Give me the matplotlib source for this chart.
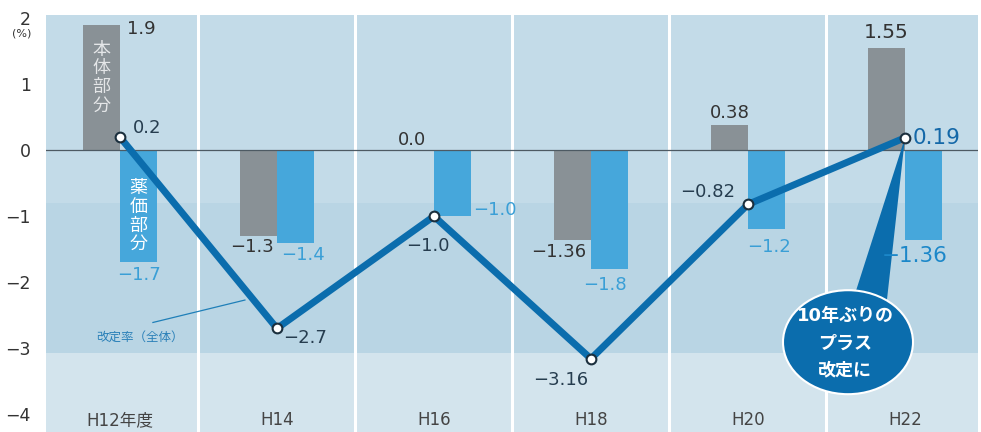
import numpy as np
import matplotlib
matplotlib.use('Agg')
import matplotlib.pyplot as plt
from matplotlib.patches import Ellipse, Polygon

plt.rcParams['font.family'] = ['DejaVu Sans', 'Noto Sans CJK JP']

# 診療報酬改定率の推移 (%)
years = ['H12年度', 'H14', 'H16', 'H18', 'H20', 'H22']
honntai = [1.9, -1.3, 0.0, -1.36, 0.38, 1.55]     # 本体部分
yakka = [-1.7, -1.4, -1.0, -1.8, -1.2, -1.36]     # 薬価部分
zentai = [0.2, -2.7, -1.0, -3.16, -0.82, 0.19]    # 改定率(全体)
honntai_txt = ['1.9', '−1.3', '0.0', '−1.36', '0.38', '1.55']
yakka_txt = ['−1.7', '−1.4', '−1.0', '−1.8', '−1.2', '−1.36']
zentai_txt = ['0.2', '−2.7', '−1.0', '−3.16', '−0.82', '0.19']
yticks = [-4, -3, -2, -1, 0, 1, 2]

# ラベル位置 (pixel offset, ha)
off_h = [(25, -4, 'left'), (-7, -11, 'center'), (-4, 10, 'center'),
         (-14, -12, 'center'), (0, 12, 'center'), (0, 15, 'center')]
off_y = [(1, -13, 'center'), (8, -12, 'center'), (21, 6, 'left'),
         (-4, -16, 'center'), (3, -18, 'center'), (-9, -16, 'center')]
off_z = [(13, 9, 'left'), (6, -10, 'left'), (-6, -30, 'center'),
         (-30, -21, 'center'), (-13, 12, 'right'), (8, 0, 'left')]

GRAY = '#899196'
LBLUE = '#46a7db'
LINE = '#0b6dad'
DARK = '#333333'

fig = plt.figure(figsize=(9.81, 4.32), dpi=100)
ax = fig.add_axes([46 / 981, 0, 932 / 981, 417 / 432])
x = np.arange(len(years))
w = 0.235
ax.set_xlim(-0.471, 5.465)
ax.set_ylim(-4.27, 2.05)

# 背景
ax.axhspan(-0.8, 2.05, color='#c3dbe8', lw=0, zorder=0)
ax.axhspan(-3.08, -0.8, color='#b9d5e4', lw=0, zorder=0)
ax.axhspan(-4.27, -3.08, color='#d3e4ed', lw=0, zorder=0)
for s in x[:-1] + 0.5:
    ax.axvline(s, color='white', lw=2.2, zorder=1)

ax.bar(x - w / 2, honntai, w, color=GRAY, zorder=2)
ax.bar(x + w / 2, yakka, w, color=LBLUE, zorder=2)
ax.axhline(0, color='#4d5a63', lw=0.9, zorder=2.5)

ax.text(x[0] - w / 2, 1.1, '本\n体\n部\n分', ha='center', va='center',
        color='#e4e6e8', fontsize=13, linespacing=1.05, zorder=6)
ax.text(x[0] + w / 2, -1.0, '薬\n価\n部\n分', ha='center', va='center',
        color='white', fontsize=13, linespacing=1.05, zorder=6)

# 吹き出し
ax.add_patch(Polygon([(x[5], zentai[5]), (4.669, -2.27), (4.885, -2.27)],
                     closed=True, color=LINE, lw=0, zorder=3))
ax.add_patch(Ellipse((4.637, -2.909), 0.828, 1.576, facecolor=LINE,
                     edgecolor='white', lw=1.5, zorder=3))
ax.text(4.618, -2.924, '10年ぶりの\nプラス\n改定に', ha='center', va='center',
        color='white', fontsize=13, fontweight='bold', linespacing=1.65,
        zorder=6)

ax.plot(x, zentai, color=LINE, lw=5, zorder=4, solid_joinstyle='miter')
ax.plot(x, zentai, 'o', ms=7, mfc='white', mec='#1b2f3d', mew=1.5, zorder=5)

for i in range(len(years)):
    big = i == 5
    dx, dy, ha = off_h[i]
    ax.annotate(honntai_txt[i], (x[i] - w / 2, honntai[i]), xytext=(dx, dy),
                textcoords='offset pixels', ha=ha, va='center',
                color=DARK, fontsize=14.5 if big else 13, zorder=6)
    dx, dy, ha = off_y[i]
    ax.annotate(yakka_txt[i], (x[i] + w / 2, yakka[i]), xytext=(dx, dy),
                textcoords='offset pixels', ha=ha, va='center',
                color='#1b87c9' if big else '#3a9fd6',
                fontsize=15.5 if big else 13, zorder=6)
    dx, dy, ha = off_z[i]
    ax.annotate(zentai_txt[i], (x[i], zentai[i]), xytext=(dx, dy),
                textcoords='offset pixels', ha=ha, va='center',
                color='#1468a8' if big else '#263d4f',
                fontsize=15.5 if big else 13, zorder=6)
    ax.text(x[i], -4.09, years[i], ha='center', va='center',
            fontsize=12, color='#444444', zorder=6)

ax.plot([0.21, 0.796], [-2.61, -2.27], color='#1f7fb8', lw=0.9, zorder=3)
ax.text(0.127, -2.83, '改定率（全体）', ha='center', va='center',
        fontsize=9, color='#2a80b8', zorder=6)

ax.set_yticks(yticks)
ax.set_yticklabels([str(t).replace('-', '−') for t in yticks])
ax.tick_params(axis='y', length=0, pad=11, labelsize=12.5, labelcolor=DARK)
ax.set_xticks([])
for sp in ax.spines.values():
    sp.set_visible(False)
fig.text(22 / 981, 1 - 33 / 432, '(%)', ha='center', va='center',
         fontsize=8, color=DARK)

fig.savefig('out.png', dpi=100)
